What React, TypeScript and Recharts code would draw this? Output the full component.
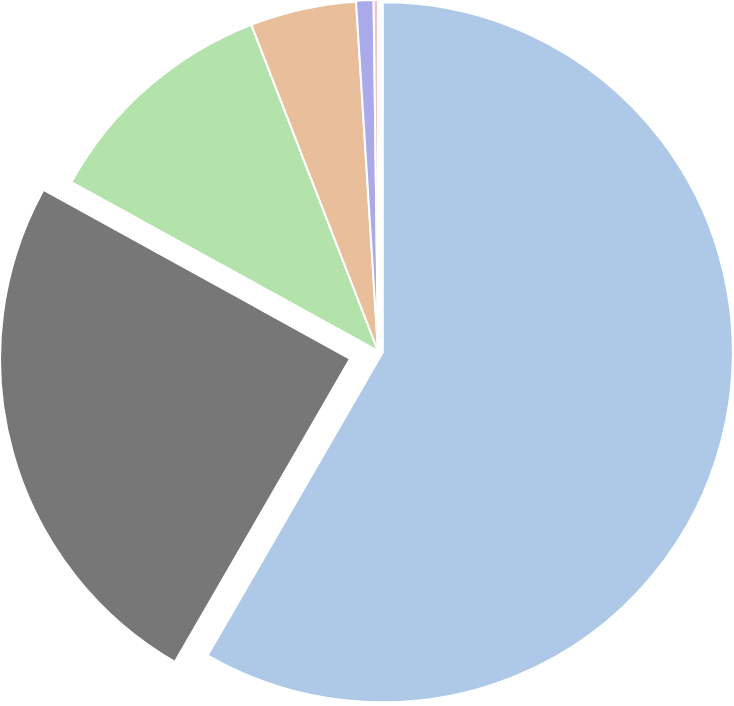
import React from "react";
import { PieChart, Pie, Cell, Sector } from "recharts";

const categories = ["A", "B", "C", "D", "E", "F"];
const shares = [58.4, 24.7, 11.1, 4.9, 0.8, 0.2];
const colors = ["#aec9e8", "#777777", "#b3e3ab", "#e9bf9b", "#aaaaea", "#f4c1c8"];
// how far each slice is pulled out from the centre
const explode = [5, 29, 0, 0, 1, 1];

const data = categories.map((name, i) => ({ name, value: shares[i], off: explode[i] }));

const RADIAN = Math.PI / 180;

function OffsetSlice(props: any) {
  const { cx, cy, midAngle, payload } = props;
  const off = payload?.off ?? 0;
  const x = cx + Math.cos(-midAngle * RADIAN) * off;
  const y = cy + Math.sin(-midAngle * RADIAN) * off;
  return <Sector {...props} cx={x} cy={y} />;
}

export default function App() {
  return (
    <div style={{ position: "absolute", left: 0, top: 0, background: "#fff" }}>
      <PieChart width={734} height={706} margin={{ top: 0, right: 0, bottom: 0, left: 0 }}>
        <Pie
          data={data}
          dataKey="value"
          nameKey="name"
          cx={378}
          cy={351}
          outerRadius={350}
          startAngle={90}
          endAngle={-270}
          stroke="#fff"
          strokeWidth={2}
          shape={OffsetSlice}
          isAnimationActive={false}
        >
          {data.map((d, i) => (
            <Cell key={`cell-${i}`} fill={colors[i]} />
          ))}
        </Pie>
      </PieChart>
    </div>
  );
}
